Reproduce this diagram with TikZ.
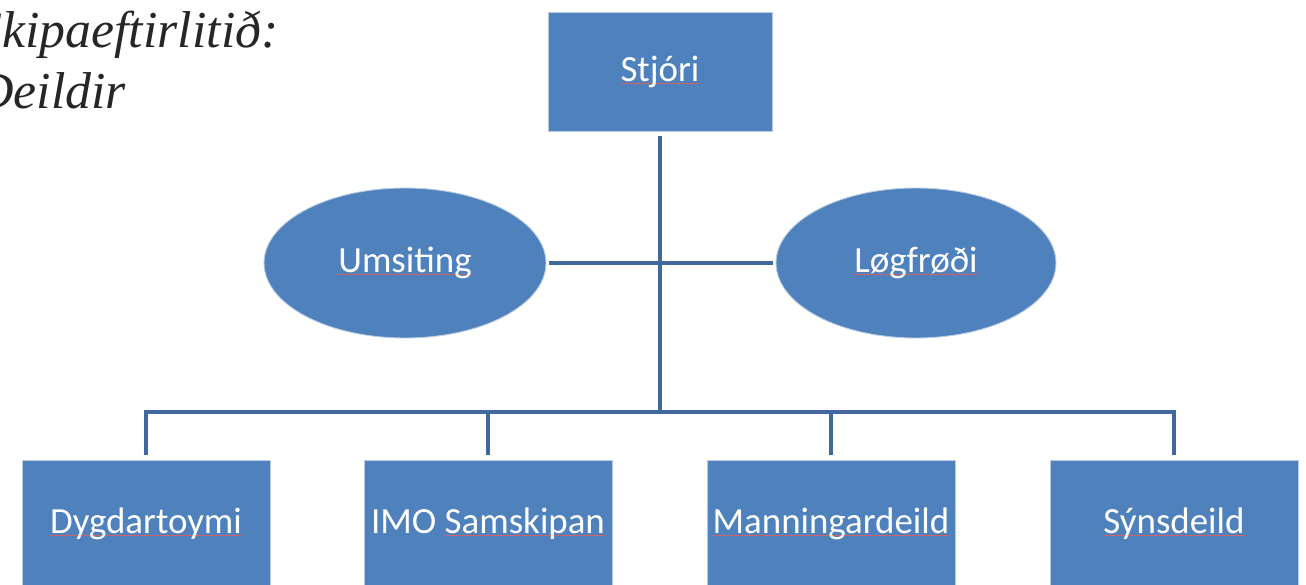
\documentclass[tikz,border=0pt]{standalone}
\usepackage{fontspec}
\setmainfont{Carlito}
\newfontfamily\headfont{Liberation Serif}
\usepackage{tikz}
\usetikzlibrary{shapes.geometric}
\definecolor{fillblue}{HTML}{4F81BD}
\definecolor{lineblue}{HTML}{41689C}
\definecolor{edgeblue}{HTML}{B9CCE4}
\definecolor{spellred}{HTML}{D0606A}
\definecolor{ink}{HTML}{262626}
\newcommand\spell[1]{\setbox0\hbox{#1}\rlap{\color{spellred}\rule[-1.3pt]{\wd0}{0.45pt}}\box0}
\tikzset{
  box/.style={rectangle, fill=fillblue, draw=edgeblue, line width=0.5pt, text=white,
    font=\fontsize{21}{25}\selectfont, minimum width=4.96cm, minimum height=2.56cm, inner sep=0pt},
  oval/.style={ellipse, fill=fillblue, draw=edgeblue, line width=0.5pt, text=white,
    font=\fontsize{21}{25}\selectfont, minimum width=5.64cm, minimum height=3cm, inner sep=0pt},
  link/.style={draw=lineblue, line width=2.3pt, line cap=rect},
  headtext/.style={font=\headfont\itshape\fontsize{29.5}{35}\selectfont, text=ink, anchor=base west, inner sep=0pt},
}
\begin{document}
\begin{tikzpicture}[x=0.02cm, y=-0.02cm]
  \useasboundingbox (0,0) rectangle (1306,585);
  \clip (0,0) rectangle (1306,585);
  % heading, cut at the left edge
  \node[headtext] (head) at (-24,47) {Skipaeftirlitið:};
  \node[headtext] (sub) at (-24,108) {Deildir};
  % top
  \node[box, minimum width=4.48cm, minimum height=2.38cm] (stj) at (660,71.5) {\spell{Stjóri}};
  \node[oval] (ums) at (405,263) {\spell{Umsiting}};
  \node[oval, minimum width=5.6cm] (log) at (916,263) {\spell{Løgfrøði}};
  % departments
  \node[box] (dyg) at (146,524) {\spell{Dygdartoymi}};
  \node[box] (imo) at (488,524) {IMO \spell{Samskipan}};
  \node[box] (man) at (831,524) {\spell{Manningardeild}};
  \node[box] (syn) at (1174,524) {\spell{Sýnsdeild}};
  \coordinate (hub) at (660,412);
  \draw[link, shorten <=0.14cm] (stj.south) -- (hub);
  \draw[link, shorten <=0.1cm, shorten >=0.1cm] (ums.east) -- (log.west);
  \draw[link] (dyg.north |- hub) -- (syn.north |- hub);
  \foreach \n in {dyg,imo,man,syn}
    \draw[link, shorten >=0.14cm] (\n.north |- hub) -- (\n.north);
\end{tikzpicture}
\end{document}
